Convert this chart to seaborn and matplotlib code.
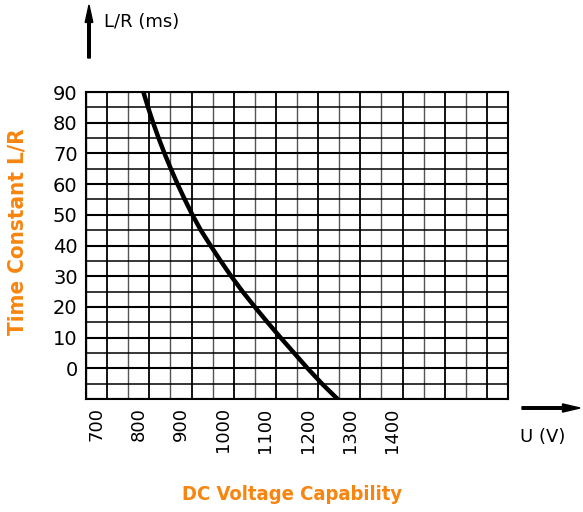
import numpy as np
import pandas as pd
import matplotlib
matplotlib.use("Agg")
import matplotlib.pyplot as plt
from matplotlib.patches import FancyArrow
from matplotlib.ticker import FixedLocator
import seaborn as sns

# curve: DC voltage capability (V) vs time constant L/R (ms)
lr_ms = [90, 85, 80, 75, 70, 65, 60, 55, 50, 45, 40, 35, 30, 25, 20, 15, 10, 5, 0, -5, -10]
u_volts = [811, 822, 834, 847, 861, 876, 892, 909, 927, 947, 970, 994, 1019,
           1046, 1075, 1105, 1136, 1168, 1200, 1234, 1271]

x_ticks = [700, 800, 900, 1000, 1100, 1200, 1300, 1400]
y_ticks = [0, 10, 20, 30, 40, 50, 60, 70, 80, 90]

ORANGE = "#f7850f"

sns.set_style("white")
plt.rcParams["font.family"] = ["DejaVu Sans"]
plt.rcParams["text.color"] = "black"
plt.rcParams["xtick.color"] = "black"
plt.rcParams["ytick.color"] = "black"

df = pd.DataFrame({"U": u_volts, "LR": lr_ms})

fig = plt.figure(figsize=(5.83, 5.12), dpi=100)
ax = fig.add_axes([0.1475, 0.2207, 0.7239, 0.5996])

# grid: lines every 50 V / 5 ms
x_lines = np.arange(675, 1676, 50)
y_lines = np.arange(-10, 91, 5)
for i, xv in enumerate(x_lines):
    ax.axvline(xv, color="black" if i % 2 else "#555555", lw=1.3 if i % 2 else 1.0, zorder=1)
for yv in y_lines:
    ax.axhline(yv, color="black", lw=1.5 if yv % 10 == 0 else 1.1, zorder=1)

sns.lineplot(data=df, x="U", y="LR", sort=False, color="black", lw=3.2, ax=ax, zorder=3)

ax.set_xlim(675, 1675)
ax.set_ylim(-10, 90)
ax.xaxis.set_major_locator(FixedLocator(x_ticks))
ax.yaxis.set_major_locator(FixedLocator(y_ticks))
ax.set_xticklabels([str(v) for v in x_ticks], rotation=90, fontsize=13, color="black")
ax.set_yticklabels([str(v) for v in y_ticks], fontsize=14, color="black")
ax.tick_params(length=0, pad=6)
ax.set_xlabel("")
ax.set_ylabel("")
for s in ax.spines.values():
    s.set_color("black")
    s.set_linewidth(1.5)

# axis arrows and unit labels
fig.patches.append(FancyArrow(
    89 / 583, 1 - 58 / 512, 0, 53 / 512, width=0.0045, head_width=0.013,
    head_length=0.034, color="black", transform=fig.transFigure, length_includes_head=True))
fig.text(104 / 583, 1 - 22 / 512, "L/R (ms)", fontsize=13, va="center", ha="left")
fig.patches.append(FancyArrow(
    522 / 583, 1 - 408 / 512, 58 / 583, 0, width=0.005, head_width=0.016,
    head_length=0.03, color="black", transform=fig.transFigure, length_includes_head=True))
fig.text(520 / 583, 1 - 437 / 512, "U (V)", fontsize=13, va="center", ha="left")

# orange titles
fig.text(18 / 583, 1 - 232 / 512, "Time Constant L/R", color=ORANGE, fontsize=16,
         fontweight="bold", fontstretch="condensed", rotation=90, va="center", ha="center")
fig.text(292 / 583, 1 - 495 / 512, "DC Voltage Capability", color=ORANGE, fontsize=14.5,
         fontweight="bold", fontstretch="condensed", va="center", ha="center")

fig.savefig("out.png", dpi=100)
